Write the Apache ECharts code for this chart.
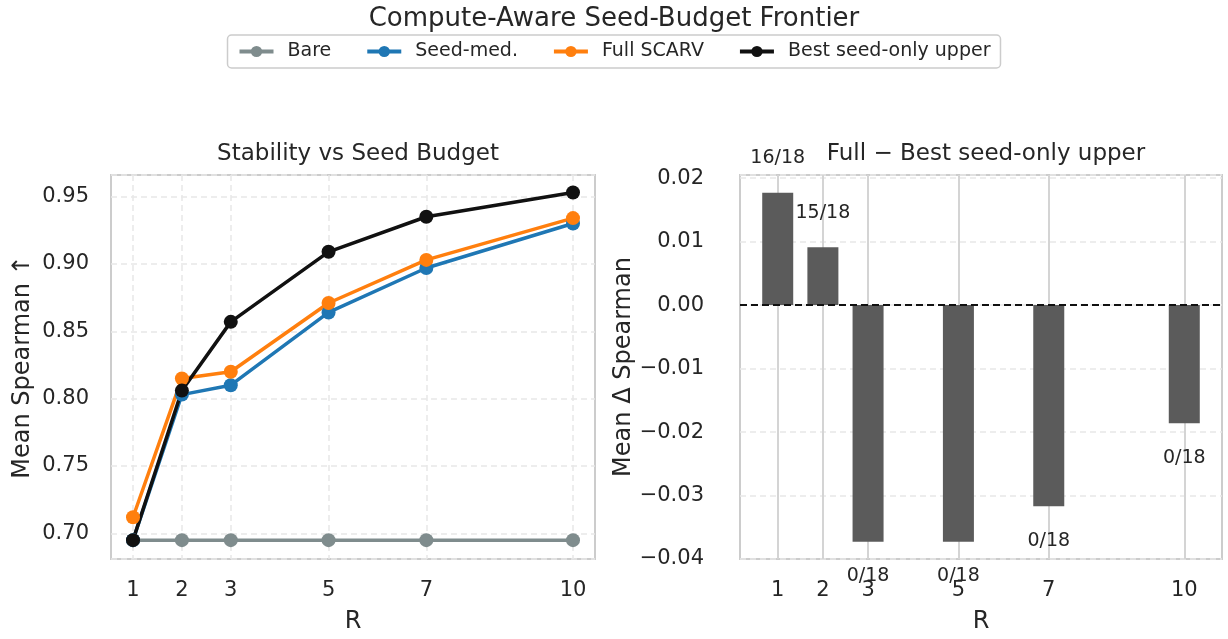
<!DOCTYPE html>
<html>
<head>
<meta charset="utf-8">
<script src="https://cdn.jsdelivr.net/npm/echarts@6/dist/echarts.min.js"></script>
<style>
  html, body { margin: 0; padding: 0; background: #fff; }
  #main { width: 1228px; height: 639px; }
</style>
</head>
<body>
<div id="main"></div>
<script>
// seed budgets R
const rValues = [1, 2, 3, 5, 7, 10];
// mean spearman per method
const bare = [0.695, 0.695, 0.695, 0.695, 0.695, 0.695];
const seedMed = [0.695, 0.803, 0.810, 0.864, 0.897, 0.930];
const fullScarv = [0.712, 0.815, 0.820, 0.871, 0.903, 0.934];
const bestSeedOnly = [0.695, 0.806, 0.857, 0.909, 0.935, 0.953];
// Full - Best seed-only upper
const deltas = [0.0177, 0.0091, -0.0373, -0.0373, -0.0317, -0.0186];
const winLabels = ["16/18", "15/18", "0/18", "0/18", "0/18", "0/18"];

const FONT = "DejaVu Sans";
const TXT = "#262626";

function pairs(ys) {
  return rValues.map((r, i) => [r, ys[i]]);
}

function lineSeries(name, ys, color) {
  return {
    name: name,
    type: "line",
    xAxisIndex: 0,
    yAxisIndex: 0,
    data: pairs(ys),
    symbol: "circle",
    symbolSize: 14,
    color: color,
    lineStyle: { width: 3.5, color: color },
    itemStyle: { color: color },
    emphasis: { disabled: true }
  };
}

let myChart = echarts.init(document.getElementById("main"));
let option = {
  backgroundColor: "#fff",
  animation: false,
  textStyle: { fontFamily: FONT, color: TXT },
  title: [
    { text: "Compute-Aware Seed-Budget Frontier", left: "center", top: 1,
      textStyle: { fontFamily: FONT, fontSize: 26, fontWeight: "normal", color: TXT } },
    { text: "Stability vs Seed Budget", left: 353, textAlign: "center", top: 138,
      textStyle: { fontFamily: FONT, fontSize: 23, fontWeight: "normal", color: TXT } },
    { text: "Full \u2212 Best seed-only upper", left: 981, textAlign: "center", top: 138,
      textStyle: { fontFamily: FONT, fontSize: 23, fontWeight: "normal", color: TXT } }
  ],
  legend: {
    top: 35,
    left: "center",
    data: ["Bare", "Seed-med.", "Full SCARV", "Best seed-only upper"],
    itemWidth: 34,
    itemHeight: 14,
    itemGap: 34,
    padding: [7, 10],
    borderColor: "#cccccc",
    borderWidth: 1.5,
    borderRadius: 4,
    lineStyle: { width: 4 },
    textStyle: { fontFamily: FONT, fontSize: 19, color: TXT, padding: [0, 0, 0, 9] }
  },
  grid: [
    { left: 111, right: 633, top: 175, bottom: 74, show: true, borderColor: "#cccccc", borderWidth: 2 },
    { left: 740, right: 6, top: 175, bottom: 74, show: true, borderColor: "#cccccc", borderWidth: 2 }
  ],
  xAxis: [
    {
      type: "value", gridIndex: 0, min: 0.55, max: 10.45,
      name: "R", nameLocation: "middle", nameGap: 51,
      nameTextStyle: { fontFamily: FONT, fontSize: 24, color: TXT },
      axisLine: { show: false },
      axisTick: { show: false, customValues: rValues },
      axisLabel: { customValues: rValues, fontSize: 21, color: TXT, margin: 21 },
      splitLine: { show: true, lineStyle: { color: "#e8e8e8", type: [6, 4], width: 1.5 } }
    },
    {
      type: "value", gridIndex: 1, min: 0.165, max: 10.835,
      name: "R", nameLocation: "middle", nameGap: 51,
      nameTextStyle: { fontFamily: FONT, fontSize: 24, color: TXT },
      axisLine: { show: false },
      axisTick: { show: false, customValues: rValues },
      axisLabel: { customValues: rValues, fontSize: 21, color: TXT, margin: 21 },
      splitLine: { show: true, lineStyle: { color: "#d4d4d4", width: 2 } }
    }
  ],
  yAxis: [
    {
      type: "value", gridIndex: 0, min: 0.681, max: 0.966, splitNumber: 6,
      name: "Mean Spearman \u2191", nameLocation: "middle", nameGap: 76,
      nameTextStyle: { fontFamily: FONT, fontSize: 24, color: TXT },
      axisLine: { show: false },
      axisTick: { show: false },
      axisLabel: { fontSize: 21, color: TXT, margin: 22, showMinLabel: false, showMaxLabel: false,
        formatter: v => v.toFixed(2) },
      splitLine: { show: true, lineStyle: { color: "#e8e8e8", type: [6, 4], width: 1.5 } }
    },
    {
      type: "value", gridIndex: 1, min: -0.04, max: 0.0205, interval: 0.01,
      name: "Mean \u0394 Spearman", nameLocation: "middle", nameGap: 96,
      nameTextStyle: { fontFamily: FONT, fontSize: 24, color: TXT },
      axisLine: { show: false },
      axisTick: { show: false },
      axisLabel: { fontSize: 21, color: TXT, margin: 36, showMaxLabel: false,
        formatter: v => (v < 0 ? "\u2212" : "") + Math.abs(v).toFixed(2) },
      splitLine: { show: true, lineStyle: { color: "#e8e8e8", type: [6, 4], width: 1.5 } }
    }
  ],
  series: [
    lineSeries("Bare", bare, "#7f8c8d"),
    lineSeries("Seed-med.", seedMed, "#1f77b4"),
    lineSeries("Full SCARV", fullScarv, "#ff7f0e"),
    lineSeries("Best seed-only upper", bestSeedOnly, "#111111"),
    {
      name: "delta",
      type: "bar",
      xAxisIndex: 1,
      yAxisIndex: 1,
      barWidth: 31,
      data: rValues.map((r, i) => ({
        value: [r, deltas[i]],
        label: { position: deltas[i] >= 0 ? "top" : "bottom" }
      })),
      itemStyle: { color: "#5b5b5b" },
      label: {
        show: true,
        distance: 25,
        fontFamily: FONT,
        fontSize: 19,
        color: TXT,
        formatter: p => winLabels[p.dataIndex]
      },
      markLine: {
        silent: true,
        symbol: "none",
        label: { show: false },
        lineStyle: { color: "#111111", type: [7, 4], width: 2 },
        data: [{ yAxis: 0 }]
      },
      emphasis: { disabled: true }
    }
  ]
};
myChart.setOption(option);
</script>
</body>
</html>
